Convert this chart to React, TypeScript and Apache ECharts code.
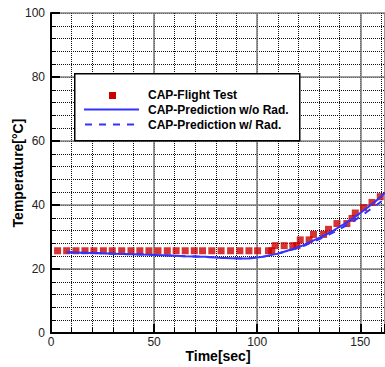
import React, { useEffect, useRef } from 'react';
import * as echarts from 'echarts';

const FONT = 'Arial, "Liberation Sans", Helvetica, sans-serif';

const seriesNames = ['CAP-Flight Test', 'CAP-Prediction w/o Rad.', 'CAP-Prediction w/ Rad.'];

const xTicksMajor = 50;
const xTicksMinor = 10;
const yTicksMajor = 20;
const yTicksMinor = 4;
const xMax = 162;
const yMax = 100;

const flightTime = [3.2, 7.6, 12.1, 16.5, 20.8, 25.4, 29.7, 34.3, 38.8, 43.1, 47.5, 51.9, 56.4, 60.7, 65.1, 69.5, 73.5, 78.0, 82.5, 87.1, 91.6, 96.0, 100.2, 105.5, 107.1, 108.7, 113.1, 117.3, 119.3, 120.9, 125.2, 127.3, 132.2, 134.6, 138.7, 143.5, 146.0, 147.6, 151.6, 155.7, 159.7];
const flightTemp = [25.7, 25.7, 25.7, 25.7, 25.7, 25.7, 25.7, 25.7, 25.7, 25.7, 25.7, 25.7, 25.7, 25.7, 25.7, 25.7, 25.7, 25.7, 25.7, 25.7, 25.7, 25.7, 25.7, 25.7, 25.7, 27.3, 27.3, 27.3, 27.3, 29.1, 29.1, 30.8, 30.8, 32.4, 34.2, 34.2, 35.8, 37.5, 39.2, 40.8, 42.6];

const predTime = [7.6, 15, 25, 35, 45, 55, 65, 75, 85, 95, 100, 105, 110, 115, 120, 125, 130, 135, 140, 145, 150, 155, 160, 162];
const predNoRadTemp = [25.2, 25.1, 24.9, 24.7, 24.5, 24.3, 24.0, 23.8, 23.4, 23.3, 23.6, 24.1, 24.8, 25.8, 26.8, 28.2, 29.7, 31.3, 33.2, 35.2, 37.5, 39.9, 42.6, 43.9];
const predRadTemp = [25.2, 25.1, 24.9, 24.7, 24.5, 24.3, 24.0, 23.8, 23.4, 23.3, 23.6, 24.1, 24.8, 25.7, 26.6, 27.9, 29.3, 30.8, 32.5, 34.3, 36.4, 38.7, 41.0, 41.9];

const RED = '#cc0000';
const BLUE = '#3333ff';

function zip(a: number[], b: number[]) {
  return a.map((v, i) => [v, b[i]]);
}

export default function App() {
  const ref = useRef<HTMLDivElement>(null);
  useEffect(() => {
    const chart = echarts.init(ref.current!, null, { renderer: 'svg' });
    const labelStyle = { fontSize: 12, color: '#222', fontFamily: FONT };
    const nameStyle = { fontSize: 14, fontWeight: 'bold' as const, color: '#000', fontFamily: FONT };
    const minorSplit = { show: true, lineStyle: { color: '#111', type: [1, 1] as any, width: 1 } };
    const majorSplit = { show: true, lineStyle: { color: '#808080', type: 'solid' as const, width: 1.6 } };
    const LX = 74, LY = 73;
    const option: any = {
      animation: false,
      grid: { left: 51, top: 13, right: 0, bottom: 34, containLabel: false, outerBoundsMode: 'none' },
      xAxis: [
        {
          type: 'value', min: 0, max: xMax, interval: xTicksMinor, position: 'bottom',
          name: 'Time[sec]', nameLocation: 'middle', nameGap: 16, nameMoveOverlap: false, nameTextStyle: nameStyle,
          axisLine: { show: true, onZero: false, lineStyle: { color: '#000', width: 2 } },
          axisTick: { show: true, inside: true, length: 5, lineStyle: { color: '#000', width: 1 } },
          axisLabel: { ...labelStyle, margin: 3, formatter: (v: number) => (v % xTicksMajor === 0 ? String(v) : '') },
          splitLine: minorSplit,
        },
        {
          type: 'value', min: 0, max: xMax, interval: xTicksMajor, position: 'bottom',
          axisLine: { show: false },
          axisTick: { show: true, inside: true, length: 9, lineStyle: { color: '#000', width: 2 } },
          axisLabel: { show: false },
          splitLine: majorSplit,
        },
        {
          type: 'value', min: 0, max: xMax, position: 'top',
          axisLine: { show: true, lineStyle: { color: '#000', width: 1.5 } },
          axisTick: { show: false }, axisLabel: { show: false }, splitLine: { show: false },
        },
      ],
      yAxis: [
        {
          type: 'value', min: 0, max: yMax, interval: yTicksMinor, position: 'left',
          name: 'Temperature[°C]', nameLocation: 'middle', nameGap: 26, nameMoveOverlap: false, nameTextStyle: nameStyle,
          axisLine: { show: true, onZero: false, lineStyle: { color: '#000', width: 2 } },
          axisTick: { show: true, inside: true, length: 5, lineStyle: { color: '#000', width: 1 } },
          axisLabel: { ...labelStyle, margin: 6, formatter: (v: number) => (v % yTicksMajor === 0 ? String(v) : '') },
          splitLine: minorSplit,
        },
        {
          type: 'value', min: 0, max: yMax, interval: yTicksMajor, position: 'left',
          axisLine: { show: false },
          axisTick: { show: true, inside: true, length: 9, lineStyle: { color: '#000', width: 2 } },
          axisLabel: { show: false },
          splitLine: majorSplit,
        },
      ],
      series: [
        {
          name: seriesNames[0], type: 'scatter', xAxisIndex: 0, yAxisIndex: 0,
          symbol: 'rect', symbolSize: 7, itemStyle: { color: RED },
          data: zip(flightTime, flightTemp), z: 3,
        },
        {
          name: seriesNames[2], type: 'line', xAxisIndex: 0, yAxisIndex: 0, smooth: 0.3,
          showSymbol: false, lineStyle: { color: BLUE, width: 2, type: [7, 7] }, itemStyle: { color: BLUE },
          data: zip(predTime, predRadTemp), z: 4,
        },
        {
          name: seriesNames[1], type: 'line', xAxisIndex: 0, yAxisIndex: 0, smooth: 0.3,
          showSymbol: false, lineStyle: { color: BLUE, width: 2 }, itemStyle: { color: BLUE },
          data: zip(predTime, predNoRadTemp), z: 5,
        },
      ],
      graphic: [
        { type: 'rect', left: LX, top: LY, shape: { width: 225, height: 67 }, style: { fill: '#fff', stroke: '#000', lineWidth: 1.5 }, z: 100 },
        { type: 'rect', shape: { x: 109, y: 92, width: 7, height: 7 }, style: { fill: RED }, z: 101 },
        { type: 'line', shape: { x1: 84, y1: 109.5, x2: 139, y2: 109.5 }, style: { stroke: BLUE, lineWidth: 2 }, z: 101 },
        { type: 'line', shape: { x1: 85, y1: 124.5, x2: 139, y2: 124.5 }, style: { stroke: BLUE, lineWidth: 2, lineDash: [7, 7] }, z: 101 },
        { type: 'text', x: 148, y: 95, style: { text: seriesNames[0], fill: '#000', font: `bold 12px ${FONT}`, verticalAlign: 'middle' }, z: 101 },
        { type: 'text', x: 148, y: 109.5, style: { text: seriesNames[1], fill: '#000', font: `bold 12px ${FONT}`, verticalAlign: 'middle' }, z: 101 },
        { type: 'text', x: 148, y: 124.5, style: { text: seriesNames[2], fill: '#000', font: `bold 12px ${FONT}`, verticalAlign: 'middle' }, z: 101 },
      ],
    };
    chart.setOption(option);
    return () => chart.dispose();
  }, []);
  return <div ref={ref} style={{ position: 'absolute', left: 0, top: 0, width: 385, height: 367 }} />;
}
